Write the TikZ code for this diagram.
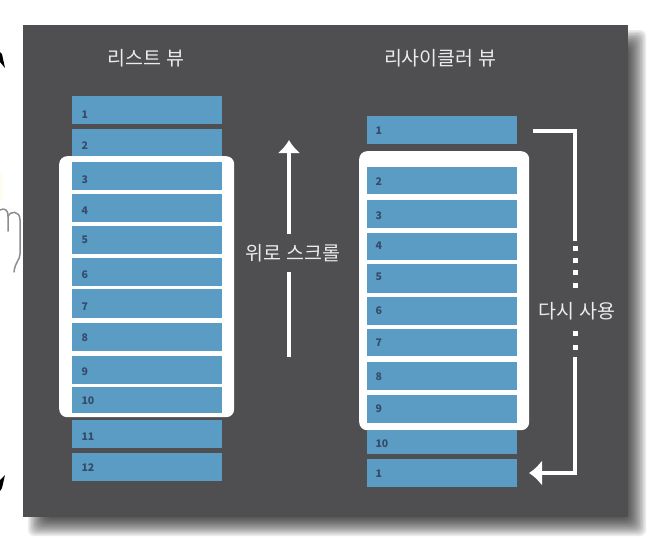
\documentclass[tikz,border=0pt]{standalone}
\usepackage{fontspec}
\setmainfont{Noto Sans CJK KR}
\usepackage{xcolor}
\usetikzlibrary{arrows.meta}
\definecolor{panelgray}{RGB}{79,78,80}
\definecolor{rowblue}{RGB}{90,156,195}
\definecolor{numnavy}{RGB}{55,75,105}
\definecolor{handgray}{RGB}{140,140,140}
\definecolor{glow}{RGB}{255,252,240}
\tikzset{
  rowbox/.style={fill=rowblue,minimum width=150pt,anchor=north west,inner sep=0pt,outer sep=0pt},
  rownum/.style={font=\fontsize{10.5}{10.5}\selectfont\bfseries,text=numnavy},
  viewframe/.style={fill=white,rounded corners=8pt},
  whiteline/.style={draw=white,line width=4pt},
  headlabel/.style={text=white!92!black,font=\fontsize{19.5}{20}\selectfont},
}
\begin{document}
\begin{tikzpicture}[x=1pt,y=-1pt]
\useasboundingbox (0,0) rectangle (656,538);
% what is left of the hand at the margin
\fill[glow] (0,172) rectangle (3,200);
\draw[handgray,line width=1.5pt,line cap=round] (0,210) .. controls (4,208) and (8,209) .. (8,216) -- (8,231);
\draw[handgray,line width=1.5pt,line cap=round] (8,216) .. controls (10,211) and (20,210) .. (20,220) -- (20,254) .. controls (20,260) and (15,262) .. (14,272);
\fill[black] (0,52) -- (2,54) -- (5,68) -- (0,62) -- cycle;
\fill[black] (5,475) -- (2,488) -- (0,491) -- (0,480) -- cycle;
% soft shadow of the panel
\foreach \d in {0,1.5,...,18}
   \fill[black,opacity=0.08,rounded corners=6pt] (28+\d,30+\d) rectangle (646-\d,536-\d);
\fill[panelgray] (23,25) rectangle (628,517);
% titles
\node[headlabel] (listtitle) at (146,58){리스트 뷰};
\node[headlabel] (recycletitle) at (440,58){리사이클러 뷰};
% left list
\node[viewframe,minimum width=175pt,minimum height=261pt,anchor=north west] (listframe) at (59,156){};
\foreach \s/\t/\h in {1/96/28,2/129/27,3/162/28,4/194/28,5/226/28,6/258/28,7/289/29,8/323/28,9/356/28,10/387/26,11/420/28,12/453/28}
   \node[rowbox,minimum height=\h pt] (list\s) at (72,\t){};
\foreach \s/\t in {1/115,2/146,3/180,4/211,5/240,6/275,7/307,8/338,9/372,10/401,11/437,12/468}
   \node[rownum,anchor=west] (listnum\s) at (78,\t){\s};
% right list
\node[viewframe,minimum width=170pt,minimum height=279pt,anchor=north west] (recycleframe) at (359,151){};
\foreach \s/\t/\h in {a/116/28,2/167/27,3/200/28,4/233/27,5/264/29,6/297/28,7/329/27,8/362/28,9/395/28,10/430/24,b/459/28}
   \node[rowbox,minimum height=\h pt] (recycle\s) at (367,\t){};
\foreach \n/\s/\t in {a/1/131,2/2/182,3/3/216,4/4/246,5/5/277,6/6/311,7/7/343,8/8/377,9/9/409,10/10/444,b/1/474}
   \node[rownum,anchor=west] (recyclenum\n) at (372,\t){\s};
% scroll arrow
\node[headlabel,minimum height=37pt,inner sep=0pt] (scrolllabel) at (293,253){위로 스크롤};
\coordinate (scrolltop) at (289,140);
\coordinate (scrollbottom) at (289,357);
\draw[whiteline,-{Latex[length=13pt,width=23pt]}] (scrolllabel.north -| scrolltop) -- (scrolltop);
\draw[whiteline] (scrolllabel.south -| scrollbottom) -- (scrollbottom);
% reuse arrow
\node[headlabel] (reuselabel) at (577,311){다시 사용};
\coordinate (reusestart) at (533,131);
\coordinate (reusecorner) at (575,131);
\coordinate (reuseupper) at (575,241);
\coordinate (reuselower) at (575,357);
\coordinate (reuseend) at (529,473);
\draw[whiteline] (reusestart) -- (reusecorner) -- (reuseupper);
\draw[whiteline,-{Latex[length=13pt,width=26pt]}] (reuselower) |- (reuseend);
\foreach \t in {248,260,272,285,333,347}
   \fill[white] (572.5,\t-2.5) rectangle (577.5,\t+2.5);
\end{tikzpicture}
\end{document}
